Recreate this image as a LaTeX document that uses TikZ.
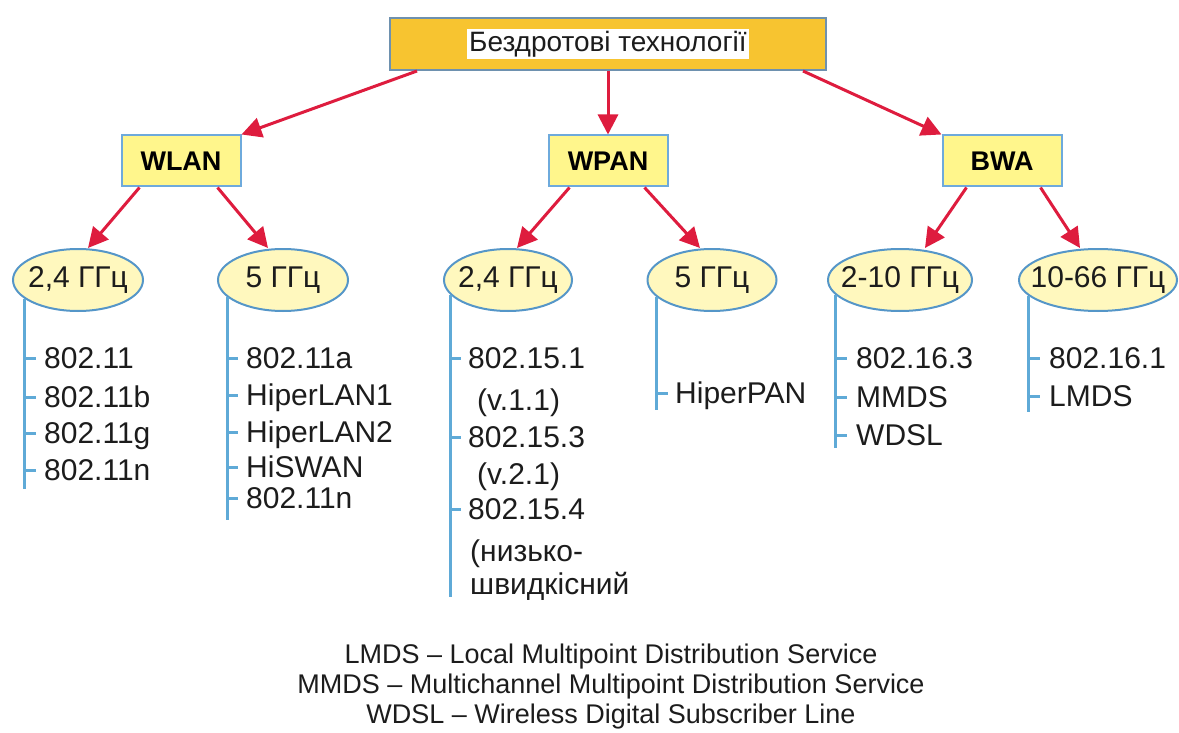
\documentclass[tikz,border=0pt]{standalone}
\usepackage{fontspec}
\setmainfont{Liberation Sans}
\usetikzlibrary{shapes.geometric,arrows.meta}

\definecolor{topfill}{RGB}{247,196,48}
\definecolor{topedge}{RGB}{110,145,175}
\definecolor{boxfill}{RGB}{255,246,140}
\definecolor{boxedge}{RGB}{110,170,220}
\definecolor{ovalfill}{RGB}{255,248,190}
\definecolor{ovaledge}{RGB}{85,150,200}
\definecolor{linkred}{RGB}{222,28,62}
\definecolor{stemblue}{RGB}{95,170,215}
\definecolor{txt}{RGB}{28,28,28}

\newcommand{\freqtext}[1]{\makebox[0pt]{#1}}

\tikzset{
  topbox/.style={draw=topedge, line width=2pt, fill=topfill, minimum width=436pt, minimum height=52pt, inner sep=0pt, font=\fontsize{28}{30}\selectfont, text=txt},
  netbox/.style={draw=boxedge, line width=2pt, fill=boxfill, minimum width=119pt, minimum height=51pt, inner sep=0pt, font=\fontsize{27}{30}\selectfont\bfseries, text=black},
  freq/.style={ellipse, draw=ovaledge, line width=2pt, fill=ovalfill, minimum height=62pt, inner sep=0pt, font=\fontsize{30}{32}\selectfont, text=txt},
  item/.style={anchor=west, inner sep=0pt, text height=21.5pt, text depth=0pt, font=\fontsize{30}{32}\selectfont, text=txt},
  link/.style={draw=linkred, line width=3pt, -{Triangle[length=20pt,width=20pt]}},
  stem/.style={draw=stemblue, line width=3pt},
}

\begin{document}
\begin{tikzpicture}[x=1pt,y=-1pt]
    \useasboundingbox (0,0) rectangle (1179,733);

    % Dibuja la raiz y las tres familias
    \node[topbox] (root) at (608,44) {\setlength{\fboxsep}{2pt}\colorbox{white}{Бездротові технології}};
    \node[netbox] (wlan) at (181,161) {WLAN};
    \node[netbox] (wpan) at (608,161) {WPAN};
    \node[netbox] (bwa) at (1002,161) {BWA};

    \draw[link] ([xshift=28pt]root.south west) -- (wlan.north east);
    \draw[link] (root.south) -- (wpan.north);
    \draw[link] ([xshift=-24pt]root.south east) -- (bwa.north west);

    % Dibuja las bandas de frecuencia
    \node[freq, minimum width=130pt] (wl24) at (78,280) {\freqtext{2,4 ГГц}};
    \node[freq, minimum width=130pt] (wl5) at (283,280) {\freqtext{5 ГГц}};
    \node[freq, minimum width=128pt] (wp24) at (508,280) {\freqtext{2,4 ГГц}};
    \node[freq, minimum width=129pt] (wp5) at (712,280) {\freqtext{5 ГГц}};
    \node[freq, minimum width=144pt] (bw210) at (900,280) {\freqtext{2-10 ГГц}};
    \node[freq, minimum width=158pt] (bw1066) at (1098,280) {\freqtext{10-66 ГГц}};

    \draw[link] ([xshift=19pt]wlan.south west) -- ([xshift=10pt]wl24.north);
    \draw[link] ([xshift=-24pt]wlan.south east) -- ([xshift=-15pt]wl5.north);
    \draw[link] ([xshift=22pt]wpan.south west) -- ([xshift=9pt]wp24.north);
    \draw[link] ([xshift=-24pt]wpan.south east) -- ([xshift=-12pt]wp5.north);
    \draw[link] ([xshift=25pt]bwa.south west) -- ([xshift=25pt]bw210.north);
    \draw[link] ([xshift=-22pt]bwa.south east) -- ([xshift=-18pt]bw1066.north);

    % Dibuja los troncos de las listas
    \draw[stem] (wl24.199) -- ++(0,190);
    \draw[stem] (wl5.197) -- ++(0,223);
    \draw[stem] (wp24.195) -- ++(0,302);
    \draw[stem] (wp5.197) -- ++(0,113);
    \draw[stem] (bw210.193) -- ++(0,153);
    \draw[stem] (bw1066.193) -- ++(0,116);

    % Dibuja los estandares
    \foreach \y/\t [count=\i] in {358/802.11, 397/802.11b, 433/802.11g, 470/802.11n}{
        \node[item] (wl24-\i) at (44,\y) {\t};
        \draw[stem] (wl24-\i.west) ++(-18,0) -- ++(10,0);
    }
    \foreach \y/\t [count=\i] in {358/802.11a, 395/HiperLAN1, 432/HiperLAN2, 467/HiSWAN, 498/802.11n}{
        \node[item] (wl5-\i) at (246,\y) {\t};
        \draw[stem] (wl5-\i.west) ++(-18,0) -- ++(10,0);
    }
    \foreach \y/\t [count=\i] in {358/802.15.1, 437/802.15.3, 509/802.15.4}{
        \node[item] (wp24-\i) at (468,\y) {\t};
        \draw[stem] (wp24-\i.west) ++(-16,0) -- ++(9,0);
    }
    \node[item] (wp24-v1) at (477,400) {(v.1.1)};
    \node[item] (wp24-v2) at (477,474) {(v.2.1)};
    \node[item] (wp24-n1) at (470,551) {(низько-};
    \node[item] (wp24-n2) at (470,584) {швидкісний};
    \node[item] (wp5-1) at (675,393) {HiperPAN};
    \draw[stem] (wp5-1.west) ++(-17,0) -- ++(10,0);
    \foreach \y/\t [count=\i] in {358/802.16.3, 397/MMDS, 435/WDSL}{
        \node[item] (bw210-\i) at (856,\y) {\t};
        \draw[stem] (bw210-\i.west) ++(-19,0) -- ++(10,0);
    }
    \foreach \y/\t [count=\i] in {358/802.16.1, 396/LMDS}{
        \node[item] (bw1066-\i) at (1049,\y) {\t};
        \draw[stem] (bw1066-\i.west) ++(-19,0) -- ++(10,0);
    }

    % Leyenda
    \node[align=center, text=txt, font=\fontsize{27}{30}\selectfont] (legend) at (611,687)
        {LMDS – Local Multipoint Distribution Service\\
         MMDS – Multichannel Multipoint Distribution Service\\
         WDSL – Wireless Digital Subscriber Line};
\end{tikzpicture}
\end{document}
